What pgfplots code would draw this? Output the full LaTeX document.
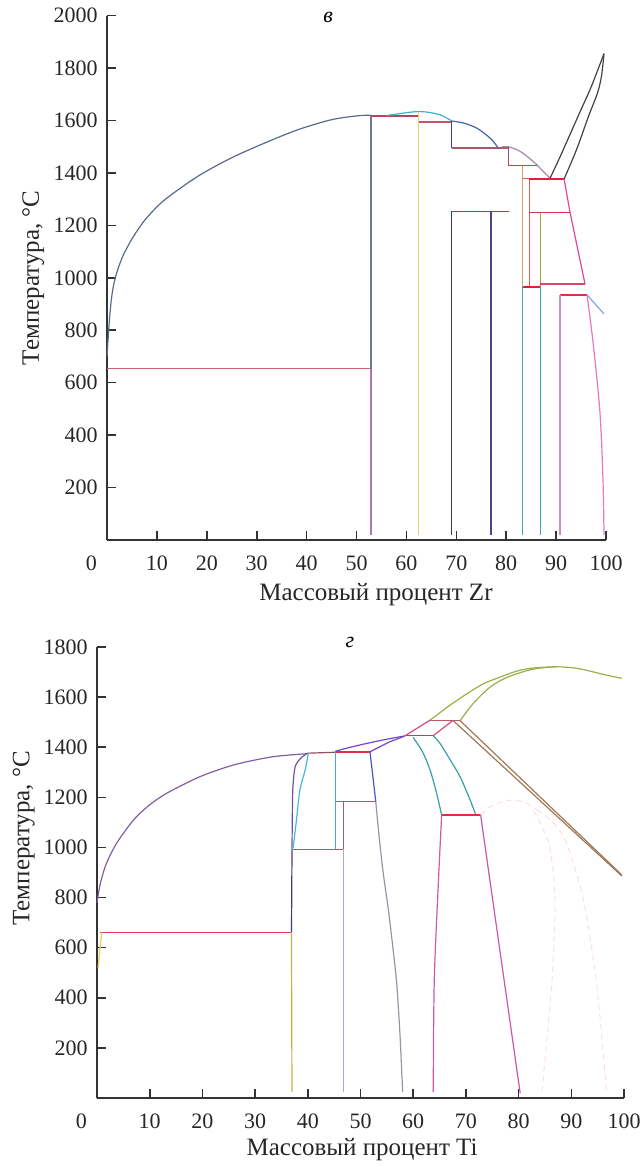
\documentclass[border=0pt]{standalone}
\usepackage{fontspec}
\setmainfont{Liberation Serif}
\usepackage{pgfplots}
\pgfplotsset{compat=1.18}

\pgfplotsset{
  phase/.style={
    scale only axis,
    axis x line*=bottom, axis y line*=left,
    xmin=0, xmax=100, ymin=0,
    tick align=inside,
    major tick length=4.3pt,
    axis line style={line width=0.8pt, black!80},
    tick style={line width=0.8pt, black!80},
    xtick={0,10,...,100},
    xticklabels={\makebox[0pt][r]{0\hspace{5pt}},10,20,30,40,50,60,70,80,90,100},
    tick label style={font=\fontsize{11}{13}\selectfont, black!85},
    xticklabel style={yshift=-4.5pt},
    yticklabel style={xshift=-1.2pt},
    label style={font=\fontsize{12.5}{14}\selectfont, black!85},
    /pgf/number format/assume math mode=true,
    /pgf/number format/1000 sep={},
    every axis plot/.append style={no marks, line width=0.6pt},
    clip=false,
  },
  thick red/.style={line width=1.1pt},
  faint/.style={line width=0.4pt, densely dashed, color=pink!60},
}

\begin{document}
\begin{tikzpicture}[x=1pt,y=1pt]
\useasboundingbox (0,0) rectangle (321.5,583.5);

% ---- upper diagram (Zr)
\begin{axis}[phase, at={(53.5pt,313.5pt)}, anchor=south west,
  width=249.5pt, height=262.2pt, ymax=2000, ytick={200,400,...,2000},
  xlabel={Массовый процент Zr},
  xlabel style={at={(axis description cs:0.539,-0.105)}, anchor=center},
  ylabel={Температура, °C},
  ylabel style={at={(axis description cs:-0.148,0.50)}, anchor=center},
  title={\textit{в}},
  every axis title/.style={at={(axis description cs:0.443,0.996)}, anchor=center, font=\fontsize{11}{12}\selectfont},
]
\addplot[smooth, color={rgb,255:red,90;green,106;blue,138}] coordinates {(0,700)(0.2,760)(0.45,830)(0.8,905)(1.2,960)(1.7,1002)(2.4,1045)(3.4,1092)(4.9,1145)(6.5,1192)(8.2,1234)(11.6,1298)(18.2,1387)(24.9,1457)(31.6,1514)(38.3,1565)(45,1603)(50.3,1618)(52.9,1620)};
\addplot[color={rgb,255:red,200;green,100;blue,120}] coordinates {(0,654)(52.9,654)};
\addplot[color={rgb,255:red,110;green,124;blue,136}] coordinates {(52.9,1620)(52.9,654)};
\addplot[color={rgb,255:red,168;green,120;blue,176}] coordinates {(52.9,654)(52.9,20)};
\addplot[color={rgb,255:red,192;green,64;blue,96}] coordinates {(52.9,1617)(62.5,1617)};
\addplot[smooth, color={rgb,255:red,64;green,176;blue,208}] coordinates {(56,1619)(58.7,1626)(60.5,1631)(62.6,1634)(64.5,1631)(66.7,1622)(68,1610)(69.1,1598)};
\addplot[color={rgb,255:red,240;green,208;blue,96}] coordinates {(62.5,1634)(62.5,20)};
\addplot[color={rgb,255:red,200;green,80;blue,112}] coordinates {(62.5,1594)(69.1,1594)};
\addplot[smooth, color={rgb,255:red,72;green,98;blue,176}] coordinates {(69.1,1598)(71.5,1590)(74.1,1571)(76.4,1539)(77.5,1518)(78.4,1495)};
\addplot[color={rgb,255:red,64;green,64;blue,144}] coordinates {(69.1,1598)(69.1,1495)};
\addplot[color={rgb,255:red,168;green,88;blue,104}] coordinates {(69.1,1495)(80.4,1495)};
\addplot[smooth, color={rgb,255:red,168;green,136;blue,168}] coordinates {(79.1,1499)(80.4,1500)(82.8,1482)(85.4,1444)(87.4,1406)(88.8,1380)};
\addplot[color={rgb,255:red,168;green,72;blue,88}] coordinates {(80.4,1500)(80.4,1427)};
\addplot[color={rgb,255:red,216;green,56;blue,72}] coordinates {(80.4,1427)(86.1,1427)};
\addplot[color={rgb,255:red,216;green,160;blue,112}] coordinates {(83.3,1427)(83.3,964)};
\addplot[color={rgb,255:red,72;green,168;blue,184}] coordinates {(83.3,964)(83.3,20)};
\addplot[color={rgb,255:red,208;green,96;blue,96}] coordinates {(83.3,1380)(84.6,1380)};
\addplot[color={rgb,255:red,216;green,96;blue,80}] coordinates {(84.6,1377)(84.6,964)};
\addplot[thick red, color={rgb,255:red,224;green,32;blue,64}] coordinates {(84.6,1377)(91.6,1377)};
\addplot[smooth, color={rgb,255:red,72;green,64;blue,64}] coordinates {(88.8,1380)(91,1470)(94.4,1616)(96.8,1718)(98.2,1785)(99.6,1855)};
\addplot[smooth, color={rgb,255:red,72;green,64;blue,64}] coordinates {(91.6,1377)(94.1,1489)(96.5,1616)(98.3,1705)(99.1,1770)(99.6,1855)};
\addplot[color={rgb,255:red,216;green,48;blue,80}] coordinates {(84.6,1249)(92.8,1249)};
\addplot[color={rgb,255:red,152;green,168;blue,72}] coordinates {(86.8,1249)(86.8,976)};
\addplot[color={rgb,255:red,56;green,168;blue,168}] coordinates {(86.8,976)(86.8,20)};
\addplot[color={rgb,255:red,224;green,72;blue,152}] coordinates {(91.6,1377)(92.8,1249)(95.8,976)};
\addplot[color={rgb,255:red,216;green,72;blue,104}] coordinates {(86.8,976)(95.8,976)};
\addplot[thick red, color={rgb,255:red,224;green,32;blue,48}] coordinates {(83.3,964)(86.8,964)};
\addplot[thick red, color={rgb,255:red,224;green,48;blue,80}] coordinates {(90.8,935)(96.2,935)};
\addplot[color={rgb,255:red,200;green,144;blue,192}] coordinates {(90.8,935)(90.8,20)};
\addplot[color={rgb,255:red,136;green,168;blue,216}] coordinates {(96.2,935)(99.6,862)};
\addplot[smooth, color={rgb,255:red,232;green,120;blue,184}] coordinates {(96.2,935)(97.5,738)(98.8,484)(99.4,229)(99.6,20)};
\addplot[color={rgb,255:red,56;green,56;blue,88}] coordinates {(69.1,1253)(69.1,20)};
\addplot[color={rgb,255:red,200;green,40;blue,72}] coordinates {(69.1,1253)(80.6,1253)};
\addplot[color={rgb,255:red,72;green,72;blue,136}] coordinates {(76.95,1253)(76.95,20)};
\end{axis}

% ---- lower diagram (Ti)
\begin{axis}[phase, at={(48.5pt,34.5pt)}, anchor=south west,
  width=263.5pt, height=225.5pt, ymax=1800, ytick={200,400,...,1800},
  xlabel={Массовый процент Ti},
  xlabel style={at={(axis description cs:0.503,-0.115)}, anchor=center},
  ylabel={Температура, °C},
  ylabel style={at={(axis description cs:-0.139,0.576)}, anchor=center},
  title={\textit{г}},
  every axis title/.style={at={(axis description cs:0.48,1.011)}, anchor=center, font=\fontsize{11}{12}\selectfont},
]
\addplot[smooth, color={rgb,255:red,128;green,96;blue,160}] coordinates {(0,780)(0.3,820)(0.8,870)(1.8,937)(3.7,1016)(6.9,1109)(10,1170)(13.2,1216)(19.5,1282)(25.9,1329)(32.2,1358)(36,1368)(39.8,1374)};
\addplot[color={rgb,255:red,144;green,80;blue,96}] coordinates {(39.8,1376)(45.3,1380)};
\addplot[smooth, color={rgb,255:red,112;green,80;blue,168}] coordinates {(39.8,1374)(38.6,1355)(37.6,1322)(37.2,1250)(37.1,1189)(37.05,1100)(37.0,990)};
\addplot[color={rgb,255:red,64;green,64;blue,120}] coordinates {(37.0,990)(36.95,800)(36.9,661)};
\addplot[color={rgb,255:red,232;green,56;blue,88}] coordinates {(0.6,661)(36.9,661)};
\addplot[color={rgb,255:red,232;green,208;blue,96}] coordinates {(0.9,661)(0.2,520)};
\addplot[color={rgb,255:red,200;green,176;blue,72}] coordinates {(36.9,661)(37.0,24)};
\addplot[smooth, color={rgb,255:red,72;green,184;blue,208}] coordinates {(40.1,1376)(39.5,1309)(38.5,1229)(37.8,1100)(37.2,996)};
\addplot[color={rgb,255:red,168;green,88;blue,104}] coordinates {(37.2,993)(46.7,993)};
\addplot[color={rgb,255:red,72;green,168;blue,216}] coordinates {(45.3,1382)(45.3,993)};
\addplot[color={rgb,255:red,136;green,104;blue,104}] coordinates {(46.7,1183)(46.7,993)};
\addplot[color={rgb,255:red,184;green,168;blue,200}] coordinates {(46.7,993)(46.7,24)};
\addplot[color={rgb,255:red,168;green,88;blue,104}] coordinates {(45.3,1183)(52.9,1183)};
\addplot[thick red, color={rgb,255:red,232;green,40;blue,72}] coordinates {(45.3,1382)(51.8,1382)};
\addplot[color={rgb,255:red,72;green,88;blue,184}] coordinates {(51.8,1382)(52.9,1183)};
\addplot[smooth, color={rgb,255:red,160;green,144;blue,168}] coordinates {(52.9,1183)(53.5,1050)(54.3,900)(55.3,750)(56.2,590)(56.9,450)(57.5,250)(58.0,24)};
\addplot[smooth, color={rgb,255:red,112;green,72;blue,200}] coordinates {(45.2,1384)(48.5,1402)(51.8,1418)(55,1432)(58.4,1445)};
\addplot[smooth, color={rgb,255:red,112;green,72;blue,200}] coordinates {(51.8,1382)(53.7,1402)(55.6,1422)(57.5,1437)(58.4,1445)};
\addplot[color={rgb,255:red,168;green,72;blue,88}] coordinates {(58.4,1446)(63.8,1446)};
\addplot[smooth, color={rgb,255:red,56;green,160;blue,168}] coordinates {(60.0,1439)(61.8,1380)(63.2,1309)(64.4,1220)(65.4,1129)};
\addplot[smooth, color={rgb,255:red,56;green,160;blue,168}] coordinates {(63.8,1446)(65.1,1415)(67,1350)(68.9,1282)(70.6,1200)(71.9,1129)};
\addplot[color={rgb,255:red,216;green,72;blue,120}] coordinates {(58.4,1445)(63.2,1508)};
\addplot[color={rgb,255:red,184;green,88;blue,104}] coordinates {(63.2,1508)(68.9,1508)};
\addplot[color={rgb,255:red,216;green,72;blue,120}] coordinates {(63.8,1446)(67.6,1508)};
\addplot[smooth, color={rgb,255:red,152;green,176;blue,72}] coordinates {(63.2,1508)(67.0,1568)(70.1,1612)(73.2,1652)(76.5,1680)(79.7,1704)(82.7,1716)(87.2,1721)(90.7,1716)(93.5,1704)(96.6,1688)(99.6,1675)};
\addplot[smooth, color={rgb,255:red,152;green,176;blue,72}] coordinates {(68.9,1506)(71.4,1575)(74.6,1640)(77.7,1678)(81.5,1705)(84.1,1716)(87.2,1721)};
\addplot[color={rgb,255:red,160;green,120;blue,88}] coordinates {(67.6,1506)(99.6,886)};
\addplot[color={rgb,255:red,160;green,120;blue,88}] coordinates {(68.9,1506)(99.6,890)};
\addplot[thick red, color={rgb,255:red,232;green,40;blue,72}] coordinates {(65.4,1129)(72.8,1129)};
\addplot[smooth, color={rgb,255:red,208;green,88;blue,168}] coordinates {(65.4,1129)(64.8,870)(64.0,470)(63.8,24)};
\addplot[color={rgb,255:red,200;green,88;blue,168}] coordinates {(72.8,1129)(80.3,19)};
\addplot[faint, smooth] coordinates {(72.8,1129)(74.6,1163)(77,1183)(79.0,1189)(81,1182)(82.2,1169)(83.5,1150)};
\addplot[faint, smooth] coordinates {(82.8,1149)(84.5,1080)(86.0,990)(86.9,790)(86.3,458)(84.4,19)};
\addplot[faint, smooth] coordinates {(83.5,1150)(86.5,1100)(89.1,1016)(92.3,790)(94.8,458)(96.7,19)};
\end{axis}
\end{tikzpicture}
\end{document}
